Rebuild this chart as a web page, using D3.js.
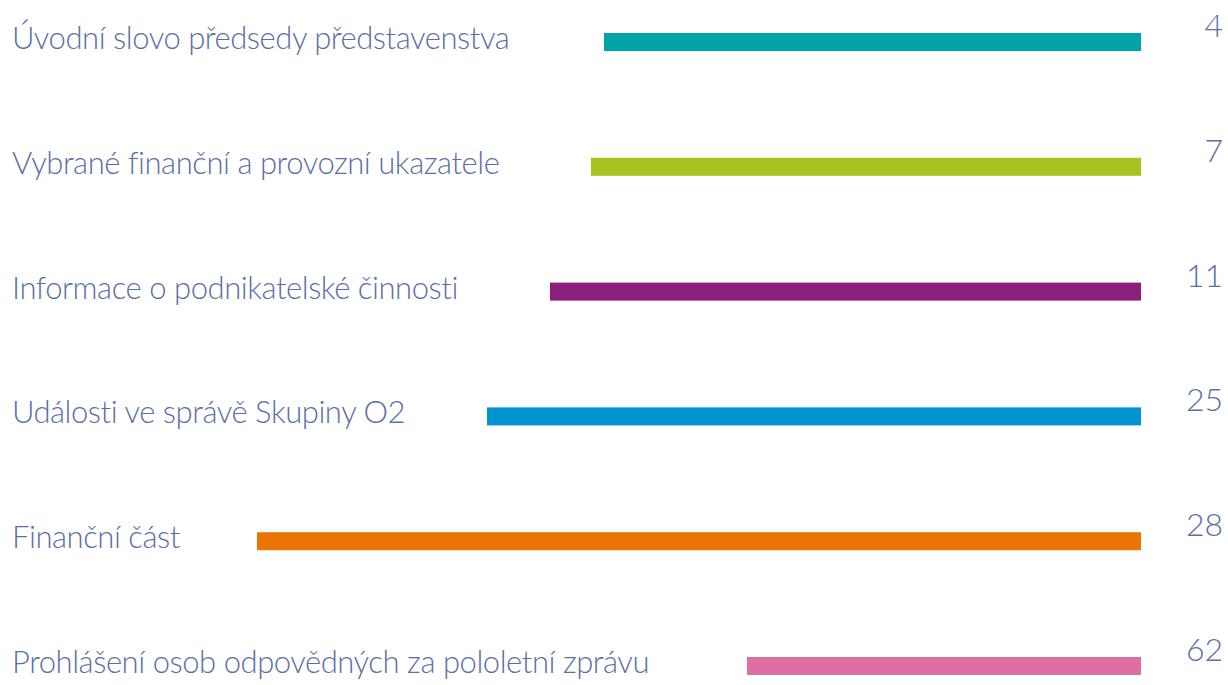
<!DOCTYPE html>
<html>
<head lang="cs">
    <meta charset="UTF-8">
    <title>Obsah</title>
    <script src="https://d3js.org/d3.v7.min.js"></script>
    <style>
        body { margin: 0; background: #fff; }
        text { font-family: Lato, "Open Sans", sans-serif; font-weight: 300; fill: #5b6fa6; }
    </style>
</head>
<body>
<svg id="chart" width="1228" height="685"></svg>
<script>
    const SECTIONS = ["Úvodní slovo předsedy představenstva", "Vybrané finanční a provozní ukazatele",
                      "Informace o podnikatelské činnosti", "Události ve správě Skupiny O2",
                      "Finanční část", "Prohlášení osob odpovědných za pololetní zprávu"];
    const PAGES = [4, 7, 11, 25, 28, 62];
    // bar lengths (px-ish units)
    const BAR_LENGTHS = [537, 550, 591, 654, 884, 394];
    const COLORS = ["#00a3a7", "#a6c31f", "#8a1f7d", "#0094d0", "#ec7405", "#dc70a3"];

    let svg = d3.select('#chart');
    const barEnd = 1141, barH = 18;

    let x = d3.scaleLinear().domain([0, 1140]).range([0, 1140]);
    let y = d3.scalePoint().domain(SECTIONS).range([42, 666]);

    let rows = svg.selectAll('g.row').data(SECTIONS).enter()
        .append('g').attr('class', 'row')
        .attr('transform', d => `translate(0,${y(d)})`);

    rows.append('rect')
        .attr('x', (d, i) => barEnd - x(BAR_LENGTHS[i]))
        .attr('y', -barH / 2)
        .attr('width', (d, i) => x(BAR_LENGTHS[i]))
        .attr('height', barH)
        .attr('fill', (d, i) => COLORS[i]);

    rows.append('text')
        .attr('x', 12)
        .attr('y', 7)
        .attr('font-size', 31)
        .attr('letter-spacing', -0.45)
        .text(d => d);

    rows.append('text')
        .attr('x', 1223)
        .attr('y', -5)
        .attr('text-anchor', 'end')
        .attr('font-size', 32)
        .text((d, i) => PAGES[i]);
</script>
</body>
</html>
